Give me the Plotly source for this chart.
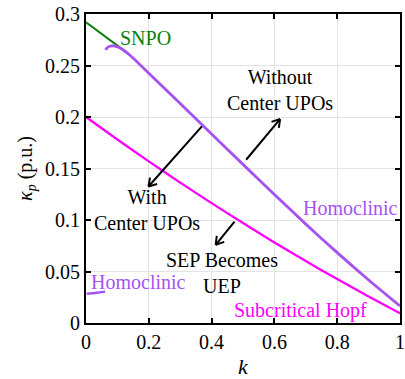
import plotly.graph_objects as go
import numpy as np

# ---------------- data ----------------
snpo_k = [0.0, 0.128]
snpo_v = [0.292, 0.2630]

homo_k = [0.063, 0.0646, 0.0751, 0.0878, 0.1037, 0.1196, 0.141, 0.200, 0.300, 0.400,
          0.500, 0.600, 0.700, 0.800, 0.900, 1.000]
homo_v = [0.2650, 0.2662, 0.2687, 0.2691, 0.2677, 0.2648, 0.2597, 0.2425, 0.2130, 0.1835,
          0.1540, 0.1248, 0.0960, 0.0683, 0.0418, 0.0165]

homo2_k = [0.002, 0.020, 0.040, 0.061]
homo2_v = [0.0285, 0.0289, 0.0296, 0.0305]

hopf_k = [0.0, 0.1, 0.2, 0.3, 0.4, 0.5, 0.6, 0.7, 0.8, 0.9, 1.0]
hopf_v = [0.2000, 0.1782, 0.1569, 0.1363, 0.1164, 0.0970, 0.0782, 0.0601, 0.0426, 0.0258, 0.0095]

x_ticks = [0, 0.2, 0.4, 0.6, 0.8, 1]
x_ticktext = ["0", "0.2", "0.4", "0.6", "0.8", "1"]
y_ticks = [0, 0.05, 0.1, 0.15, 0.2, 0.25, 0.3]
y_ticktext = ["0", "0.05", "0.1", "0.15", "0.2", "0.25", "0.3"]

# arrows: (tail_k, tail_v, head_k, head_v)
arrow_tail_k = [0.369, 0.510, 0.473]
arrow_tail_v = [0.1909, 0.1585, 0.0985]
arrow_head_k = [0.199, 0.618, 0.413]
arrow_head_v = [0.1325, 0.198, 0.0759]

# labels
label_text = ["SNPO", "Without<br>Center UPOs", "With<br>Center UPOs",
              "SEP Becomes<br>UEP", "Homoclinic", "Homoclinic", "Subcritical Hopf"]
label_k = [0.190, 0.618, 0.193, 0.432, 0.166, 0.841, 0.682]
label_v = [0.277, 0.2266, 0.110, 0.0486, 0.040, 0.112, 0.0117]

# ---------------- style ----------------
W, H = 405, 379
ML, MR, MT, MB = 86, 5, 14, 56
FONT = "Liberation Serif"
FS = 20
GREEN = "#0a800a"
PURPLE = "#A552F2"
MAGENTA = "#FF00FF"
label_color = [GREEN, "black", "black", "black", PURPLE, PURPLE, MAGENTA]

fig = go.Figure()

fig.add_trace(go.Scatter(x=hopf_k, y=hopf_v, mode="lines",
                         line=dict(color=MAGENTA, width=2.3, shape="spline", smoothing=0.6),
                         hoverinfo="skip"))
fig.add_trace(go.Scatter(x=snpo_k, y=snpo_v, mode="lines",
                         line=dict(color=GREEN, width=2), hoverinfo="skip"))
fig.add_trace(go.Scatter(x=homo_k, y=homo_v, mode="lines",
                         line=dict(color=PURPLE, width=2.8, shape="spline", smoothing=0.5),
                         hoverinfo="skip"))
fig.add_trace(go.Scatter(x=homo2_k, y=homo2_v, mode="lines",
                         line=dict(color=PURPLE, width=2.3, shape="spline"),
                         hoverinfo="skip"))

# arrows with open V heads (computed in pixel space)
xr = (0, 1)
yr = (0, 0.3)
pw = W - ML - MR
ph = H - MT - MB
sx = pw / (xr[1] - xr[0])
sy = ph / (yr[1] - yr[0])
ax_x, ax_y = [], []
L = 9.0
th = np.deg2rad(32)
for tk, tv, hk, hv in zip(arrow_tail_k, arrow_tail_v, arrow_head_k, arrow_head_v):
    dx = (hk - tk) * sx
    dy = (hv - tv) * sy
    n = np.hypot(dx, dy)
    ux, uy = dx / n, dy / n
    ax_x += [tk, hk, None]
    ax_y += [tv, hv, None]
    for s in (1, -1):
        c, si = np.cos(s * th), np.sin(s * th)
        rx = ux * c - uy * si
        ry = ux * si + uy * c
        wk = hk - L * rx / sx
        wv = hv - L * ry / sy
        ax_x += [wk, hk, None]
        ax_y += [wv, hv, None]
fig.add_trace(go.Scatter(x=ax_x, y=ax_y, mode="lines",
                         line=dict(color="black", width=2), hoverinfo="skip"))

for t, k, v, c in zip(label_text, label_k, label_v, label_color):
    fig.add_annotation(x=k, y=v, xref="x", yref="y", text=t, showarrow=False,
                       font=dict(family=FONT, size=FS, color=c),
                       xanchor="center", yanchor="middle", align="center")

axis_common = dict(showline=True, linecolor="black", linewidth=2, mirror="ticks",
                   ticks="inside", ticklen=5, tickwidth=1.5, tickcolor="black",
                   showgrid=True, gridcolor="#e3e3e3", gridwidth=1,
                   zeroline=False,
                   tickfont=dict(family=FONT, size=FS, color="black"))

fig.update_xaxes(range=list(xr), tickvals=x_ticks, ticktext=x_ticktext,
                 title=dict(text="<i>k</i>", font=dict(family=FONT, size=FS + 2, color="black"),
                            standoff=8),
                 **axis_common)
fig.update_yaxes(range=list(yr), tickvals=y_ticks, ticktext=y_ticktext,
                 title=dict(text="<i>κ</i><sub><i>p</i></sub> (p.u.)",
                            font=dict(family=FONT, size=FS, color="black"), standoff=7),
                 **axis_common)

fig.update_layout(width=W, height=H, margin=dict(l=ML, r=MR, t=MT, b=MB, autoexpand=False),
                  plot_bgcolor="white", paper_bgcolor="white", showlegend=False)

fig.write_html("out.html")
